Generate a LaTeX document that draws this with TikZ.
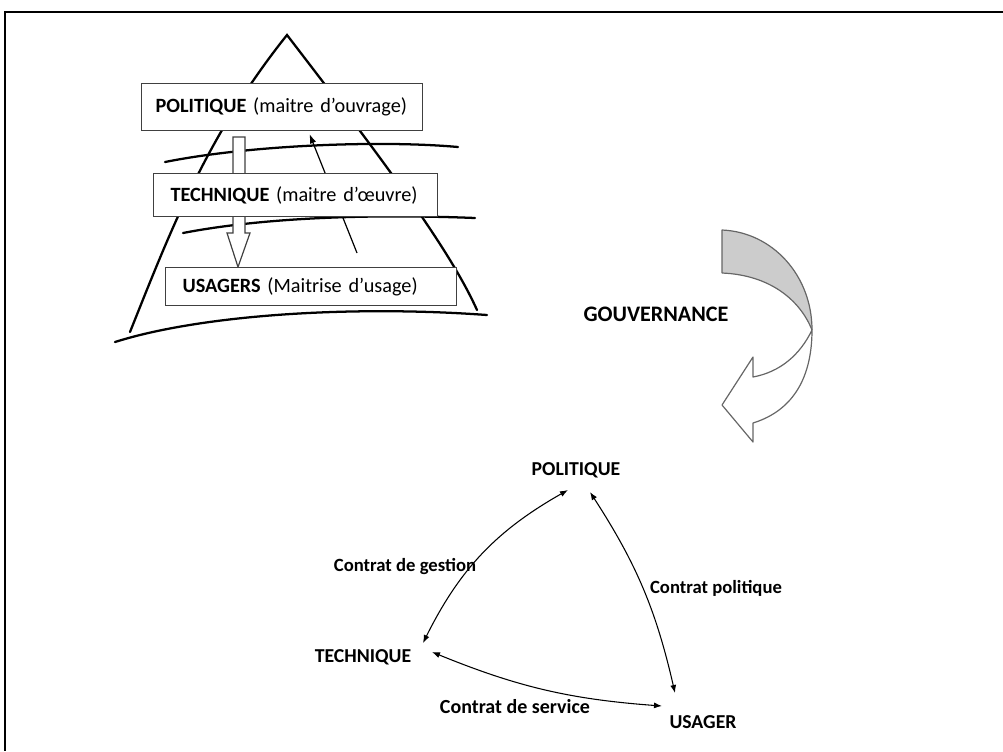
\documentclass[tikz,border=0pt]{standalone}
\usepackage{fontspec}
\setmainfont{Carlito}
\usetikzlibrary{arrows.meta}
\pgfdeclarelayer{bg}
\pgfdeclarelayer{mid}
\pgfsetlayers{bg,mid,main}
\begin{document}
\begin{tikzpicture}[x=0.75pt,y=0.75pt,
  pyr/.style={line width=1.7pt, line cap=round},
  topbox/.style={draw=black!75, line width=0.8pt, fill=white, anchor=north west,
    align=left, inner ysep=0pt, font=\fontsize{15.2}{17}\selectfont},
  lbl/.style={font=\bfseries\fontsize{14}{16}\selectfont, inner sep=0pt},
  caps/.style={lbl, font=\bfseries\fontsize{14.8}{17}\selectfont},
  link/.style={line width=0.8pt, {Latex[length=6pt,width=4.5pt]}-{Latex[length=6pt,width=4.5pt]}},
  garrow/.style={draw=black!60, line width=0.9pt, line join=round},
]
\useasboundingbox (0,0) rectangle (1003,-751);
\draw[line width=1.5pt] (1003,-12) -- (5,-12) -- (5,-751);

% boxes of the pyramid
\node[topbox, text width=189.75pt, inner xsep=10.5pt, minimum height=35.25pt] (polbox) at (141,-83)
  {\textbf{POLITIQUE} (maitre d’ouvrage)};
\node[topbox, text width=187.5pt, inner xsep=12.75pt, minimum height=32.25pt] (techbox) at (153,-173)
  {\textbf{TECHNIQUE} (maitre d’œuvre)};
\node[topbox, text width=192.75pt, inner xsep=12.75pt, minimum height=28.5pt] (usabox) at (165,-267)
  {\textbf{USAGERS} (Maitrise d’usage)};

\begin{pgfonlayer}{bg}
  \draw[pyr] (130,-332) .. controls (170,-232) and (207,-135) .. (287,-35)
             .. controls (387,-165) and (450,-250) .. (477,-310);
  \draw[pyr] (165,-162) .. controls (250,-145) and (380,-140) .. (458,-147);
  \draw[pyr] (183,-233) .. controls (250,-220) and (350,-213) .. (475,-218);
  \draw[pyr] (115,-342) .. controls (200,-315) and (350,-305) .. (487,-315);
  \coordinate (upfoot) at (357,-253);
  \draw[line width=0.9pt, -{Latex[length=7pt,width=5pt]}] (upfoot) -- ([shift={(27.5,-3)}]polbox.south);
\end{pgfonlayer}
\begin{pgfonlayer}{mid}
  \draw[black!75, line width=0.9pt, fill=white] (233,-137) -- (245,-137) -- (245,-233) -- (250,-233)
    -- (238,-267) -- (227,-233) -- (233,-233) -- cycle;
\end{pgfonlayer}

% curved arrow
\fill[black!20] (722,-230) -- (722,-273) .. controls (770,-275) and (800,-300) .. (812,-330)
   .. controls (812,-275) and (772,-232) .. (722,-230) -- cycle;
\draw[garrow] (722,-273) -- (722,-230) .. controls (772,-232) and (812,-275) .. (812,-330)
   .. controls (812,-375) and (795,-410) .. (753,-423) -- (753,-442) -- (722,-405) -- (753,-357)
   -- (753,-377) .. controls (780,-372) and (800,-355) .. (812,-330);
\draw[garrow] (722,-273) .. controls (770,-275) and (800,-300) .. (812,-330);
\node[lbl, font=\bfseries\fontsize{16.6}{19}\selectfont] (gouv) at (656,-314) {GOUVERNANCE};

% triangle
\node[caps] (pol) at (576,-470) {POLITIQUE};
\node[caps] (tech) at (363,-657) {TECHNIQUE};
\node[caps] (usa) at (703,-722) {USAGER};
\node[lbl] (cg) at (405,-567) {Contrat de gestion};
\node[lbl] (cp) at (716,-588) {Contrat politique};
\node[lbl, font=\bfseries\fontsize{15}{17}\selectfont] (cs) at (515,-707) {Contrat de service};

\draw[link] ([shift={(-8,-20)}]pol.center) to[bend right=17] ([shift={(60,14)}]tech.center);
\draw[link] ([shift={(14,-22)}]pol.center) to[bend left=10] ([shift={(-28,29)}]usa.center);
\draw[link] ([shift={(69,5)}]tech.center) to[bend right=9] ([shift={(-41,16)}]usa.center);
\end{tikzpicture}
\end{document}
